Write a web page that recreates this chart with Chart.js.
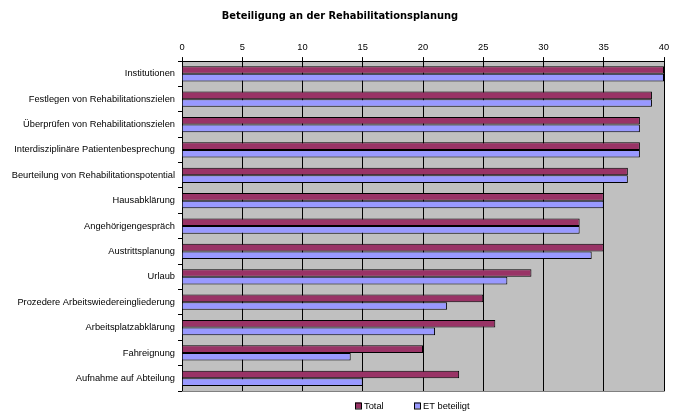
<!DOCTYPE html>
<html>
<head>
<meta charset="utf-8">
<script src="https://cdn.jsdelivr.net/npm/chart.js@4"></script>
<style>
  html, body { margin: 0; padding: 0; background: #ffffff; }
  #wrap { width: 681px; height: 414px; }
</style>
</head>
<body>
<div id="wrap"><canvas id="rehaChart" width="681" height="414"></canvas></div>
<script>
// Categories and values
const categories = [
    'Institutionen',
    'Festlegen von Rehabilitationszielen',
    'Überprüfen von Rehabilitationszielen',
    'Interdisziplinäre Patientenbesprechung',
    'Beurteilung von Rehabilitationspotential',
    'Hausabklärung',
    'Angehörigengespräch',
    'Austrittsplanung',
    'Urlaub',
    'Prozedere Arbeitswiedereingliederung',
    'Arbeitsplatzabklärung',
    'Fahreignung',
    'Aufnahme auf Abteilung'
];
const totalValues = [40, 39, 38, 38, 37, 35, 33, 35, 29, 25, 26, 20, 23];
const etValues    = [40, 39, 38, 38, 37, 35, 33, 34, 27, 22, 21, 14, 15];
const seriesNames = ['Total', 'ET beteiligt'];
const xTicks = [0, 5, 10, 15, 20, 25, 30, 35, 40];

const FONT = 'Liberation Sans, Arial, sans-serif';

// Grey plot area with the darker right / bottom edge
const plotBackground = {
    id: 'plotBackground',
    afterLayout(chart) {
        // centre the title on the page, not on the padded box
        if (chart.titleBlock) {
            chart.titleBlock.left += 8;
            chart.titleBlock.right += 8;
        }
    },
    beforeDraw(chart) {
        const { ctx, chartArea: a } = chart;
        ctx.save();
        ctx.fillStyle = '#c0c0c0';
        ctx.fillRect(a.left, a.top, a.right - a.left, a.bottom - a.top);
        ctx.strokeStyle = '#808080';
        ctx.lineWidth = 1;
        ctx.beginPath();
        ctx.moveTo(a.right + 0.5, a.top);
        ctx.lineTo(a.right + 0.5, a.bottom + 0.5);
        ctx.lineTo(a.left, a.bottom + 0.5);
        ctx.stroke();
        ctx.restore();
    }
};

// Simple legend under the plot, like the spreadsheet one
const bottomLegend = {
    id: 'bottomLegend',
    afterDraw(chart) {
        const { ctx } = chart;
        const y = 406;
        const starts = [355, 414];
        ctx.save();
        ctx.font = '9.3px ' + FONT;
        ctx.textBaseline = 'middle';
        chart.data.datasets.forEach((ds, i) => {
            const x = starts[i];
            ctx.fillStyle = ds.backgroundColor;
            ctx.fillRect(x, y - 3.5, 6, 6);
            ctx.strokeStyle = '#000000';
            ctx.lineWidth = 1;
            ctx.strokeRect(x + 0.5, y - 3.5 + 0.5, 6, 6);
            ctx.fillStyle = '#000000';
            ctx.fillText(ds.label, x + 9, y);
        });
        ctx.restore();
    }
};

const ctx = document.getElementById('rehaChart').getContext('2d');

new Chart(ctx, {
    type: 'bar',
    data: {
        labels: categories,
        datasets: [{
            label: seriesNames[0],
            data: totalValues,
            backgroundColor: '#993366',
            borderColor: '#000000',
            borderWidth: 1,
            borderSkipped: 'start'
        }, {
            label: seriesNames[1],
            data: etValues,
            backgroundColor: '#9999ff',
            borderColor: '#000000',
            borderWidth: 1,
            borderSkipped: 'start'
        }]
    },
    options: {
        responsive: false,
        animation: false,
        indexAxis: 'y',
        datasets: {
            bar: {
                categoryPercentage: 0.6,
                barPercentage: 1.0
            }
        },
        layout: {
            padding: { left: 0, right: 17, top: 0, bottom: 23 }
        },
        plugins: {
            legend: { display: false },
            tooltip: { enabled: false },
            title: {
                display: true,
                text: 'Beteiligung an der Rehabilitationsplanung',
                color: '#000000',
                font: { family: 'DejaVu Sans, Verdana, sans-serif', size: 9.9, weight: 'bold' },
                padding: { top: 10, bottom: 0 }
            }
        },
        scales: {
            x: {
                position: 'top',
                min: 0,
                max: 40,
                afterBuildTicks: function(scale) {
                    scale.ticks = xTicks.map(v => ({ value: v }));
                },
                afterFit: function(scale) {
                    scale.height = 39.2;
                },
                grid: {
                    color: '#000000',
                    lineWidth: 1,
                    tickLength: 4,
                    drawTicks: true
                },
                border: { color: '#000000', width: 1 },
                ticks: {
                    color: '#000000',
                    padding: 4,
                    font: { family: FONT, size: 9.3 }
                }
            },
            y: {
                afterFit: function(scale) {
                    scale.width = 182;
                },
                grid: {
                    drawOnChartArea: false,
                    color: '#000000',
                    tickLength: 4,
                    offset: true
                },
                border: { color: '#000000', width: 1 },
                ticks: {
                    color: '#000000',
                    padding: 3,
                    font: { family: FONT, size: 9.3 }
                }
            }
        }
    },
    plugins: [plotBackground, bottomLegend]
});
</script>
</body>
</html>
